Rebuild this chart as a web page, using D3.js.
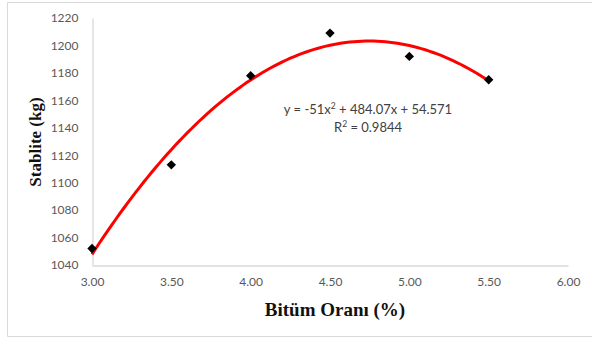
<!DOCTYPE html>
<html>
<head>
<meta charset="utf-8">
<script src="https://cdn.jsdelivr.net/npm/d3@7"></script>
<style>
  html, body { margin: 0; padding: 0; background: #fff; }
  svg { display: block; }
</style>
</head>
<body>
<svg id="chart" width="592" height="338"></svg>
<script>
// Measured stability against bitumen content
const bitumen = [3.0, 3.5, 4.0, 4.5, 5.0, 5.5];
const stability = [1052, 1113, 1178, 1209, 1192, 1175];

// Second-order polynomial trendline coefficients (a x^2 + b x + c)
const trendCoef = [-51, 484.07, 54.571];
const rSquared = 0.9844;

const xTicks = [3.0, 3.5, 4.0, 4.5, 5.0, 5.5, 6.0];
const yTicks = [1040, 1060, 1080, 1100, 1120, 1140, 1160, 1180, 1200, 1220];

const svg = d3.select("#chart");

// Chart frame (left, top, bottom edges)
svg.append("path")
  .attr("d", "M592,2.5 H7.5 V336.5 H592")
  .attr("fill", "none")
  .attr("stroke", "#d9d9d9")
  .attr("stroke-width", 1);

const plot = { left: 92, right: 568, top: 18, bottom: 265 };

const x = d3.scaleLinear().domain([3.0, 6.0]).range([plot.left, plot.right]);
const y = d3.scaleLinear().domain([1040, 1220]).range([plot.bottom, plot.top]);

const tickFont = "Lato, 'Open Sans', sans-serif";

// X axis
const xAxis = svg.append("g")
  .attr("transform", `translate(0,${plot.bottom + 0.5})`)
  .call(d3.axisBottom(x).tickValues(xTicks).tickFormat(d3.format(".2f")).tickSize(0).tickPadding(12));
xAxis.select(".domain").attr("stroke", "#d9d9d9").attr("stroke-width", 1.3);
xAxis.selectAll("text")
  .attr("fill", "#595959")
  .style("font-family", tickFont)
  .style("font-size", "12px");

// Y axis
const yAxis = svg.append("g")
  .attr("transform", `translate(${plot.left + 0.5},0)`)
  .call(d3.axisLeft(y).tickValues(yTicks).tickFormat(d3.format("d")).tickSize(0).tickPadding(14));
yAxis.select(".domain").attr("stroke", "#d9d9d9").attr("stroke-width", 1.3);
yAxis.selectAll("text")
  .attr("fill", "#595959")
  .style("font-family", tickFont)
  .style("font-size", "12px");

// Trendline
const poly = v => trendCoef[0] * v * v + trendCoef[1] * v + trendCoef[2];
const xs = d3.range(0, 101).map(i => bitumen[0] + (bitumen[bitumen.length - 1] - bitumen[0]) * i / 100);
svg.append("path")
  .datum(xs)
  .attr("fill", "none")
  .attr("stroke", "#ff0000")
  .attr("stroke-width", 3)
  .attr("d", d3.line().x(d => x(d)).y(d => y(poly(d))));

// Data markers
svg.append("g").selectAll("path")
  .data(bitumen.map((b, i) => [b, stability[i]]))
  .join("path")
  .attr("transform", d => `translate(${x(d[0])},${y(d[1])})`)
  .attr("d", d3.symbol(d3.symbolDiamond2, 56))
  .attr("fill", "#000");

// Trendline equation
const eq = svg.append("text")
  .attr("x", 368).attr("y", 114)
  .attr("text-anchor", "middle")
  .attr("fill", "#404040")
  .style("font-family", tickFont)
  .style("font-size", "13px");
eq.append("tspan").text(`y = ${trendCoef[0]}x`);
eq.append("tspan").attr("dy", -5).style("font-size", "8.5px").text("2");
eq.append("tspan").attr("dy", 5).text(` + ${trendCoef[1]}x + ${trendCoef[2]}`);

const r2 = svg.append("text")
  .attr("x", 368).attr("y", 132)
  .attr("text-anchor", "middle")
  .attr("fill", "#404040")
  .style("font-family", tickFont)
  .style("font-size", "13px");
r2.append("tspan").text("R");
r2.append("tspan").attr("dy", -5).style("font-size", "8.5px").text("2");
r2.append("tspan").attr("dy", 5).text(` = ${rSquared}`);

// Axis titles
svg.append("text")
  .attr("x", 335).attr("y", 316)
  .attr("text-anchor", "middle")
  .attr("fill", "#111")
  .style("font-family", "'Liberation Serif', 'DejaVu Serif', serif")
  .style("font-weight", "bold")
  .style("font-size", "19px")
  .text("Bitüm Oranı (%)");

svg.append("text")
  .attr("transform", "translate(41,142) rotate(-90)")
  .attr("text-anchor", "middle")
  .attr("fill", "#111")
  .style("font-family", "'Liberation Serif', 'DejaVu Serif', serif")
  .style("font-weight", "bold")
  .style("font-size", "17px")
  .text("Stablite (kg)");
</script>
</body>
</html>
